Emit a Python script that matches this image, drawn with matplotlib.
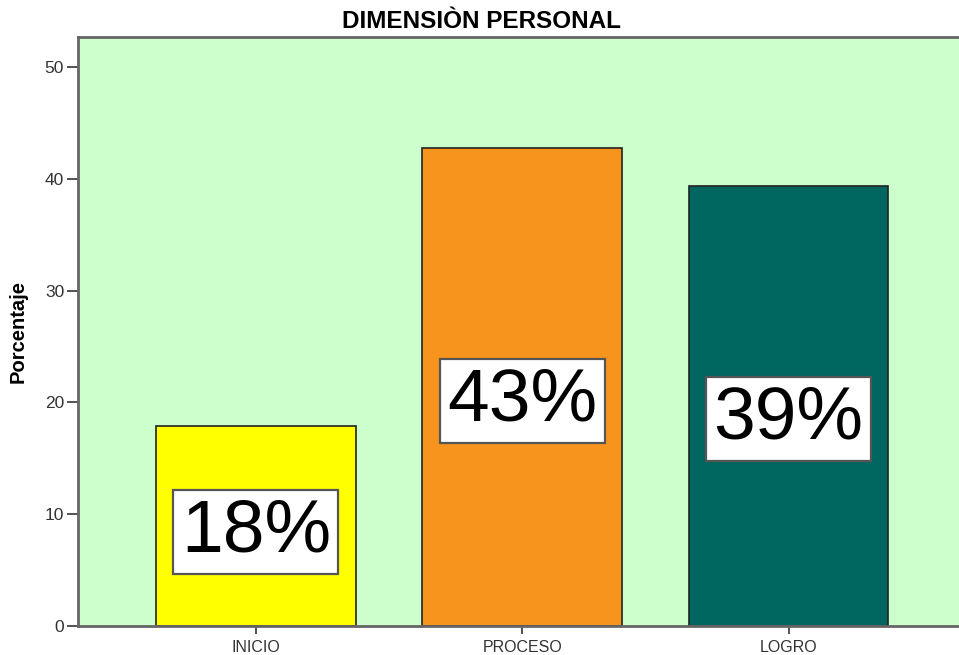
import matplotlib.pyplot as plt

categorias = ['INICIO', 'PROCESO', 'LOGRO']
porcentajes = [17.9, 42.8, 39.4]
etiquetas = ['18%', '43%', '39%']
colores = ['#ffff00', '#f7941d', '#006660']
y_ticks = [0, 10, 20, 30, 40, 50]

plt.rcParams['font.family'] = ['Liberation Sans', 'DejaVu Sans']

fig = plt.figure(figsize=(9.59, 6.55), dpi=100)
ax = fig.add_axes([78 / 959, 29 / 655, 1 - 78 / 959, 589 / 655])
ax.set_facecolor('#ccffcc')

x = range(len(categorias))
ax.bar(x, porcentajes, width=0.75, color=colores, edgecolor='#222222', linewidth=1.2, zorder=2)

# etiquetas en cajas blancas dentro de las barras
for i, (v, txt) in enumerate(zip(porcentajes, etiquetas)):
    ax.text(i, v * 0.47, txt, ha='center', va='center', fontsize=54, color='black', zorder=3,
            bbox=dict(boxstyle='square,pad=0.1', facecolor='white', edgecolor='#555555', linewidth=1.6))

ax.set_xlim(-0.668, 2.64)
ax.set_ylim(0, 52.7)
ax.set_xticks(list(x))
ax.set_xticklabels(categorias, fontsize=11.5, color='#333333')
ax.set_yticks(y_ticks)
ax.set_yticklabels([str(t) for t in y_ticks], fontsize=12.5, color='#333333')
ax.tick_params(axis='y', length=8, width=1.3, color='#444444', pad=2)
ax.tick_params(axis='x', length=6, width=1.3, color='#444444', pad=4)

for lado in ['left', 'top', 'bottom']:
    ax.spines[lado].set_color('#666666')
    ax.spines[lado].set_linewidth(2)
ax.spines['right'].set_visible(False)

ax.set_ylabel('Porcentaje', fontsize=14.5, fontweight='bold')
ax.yaxis.set_label_coords(-50 / 881, 0.5)
fig.text(481 / 959, 1 - 21 / 655, 'DIMENSIÒN PERSONAL', ha='center', va='center', fontsize=17.5, fontweight='bold')

fig.savefig('out.png', dpi=100)
